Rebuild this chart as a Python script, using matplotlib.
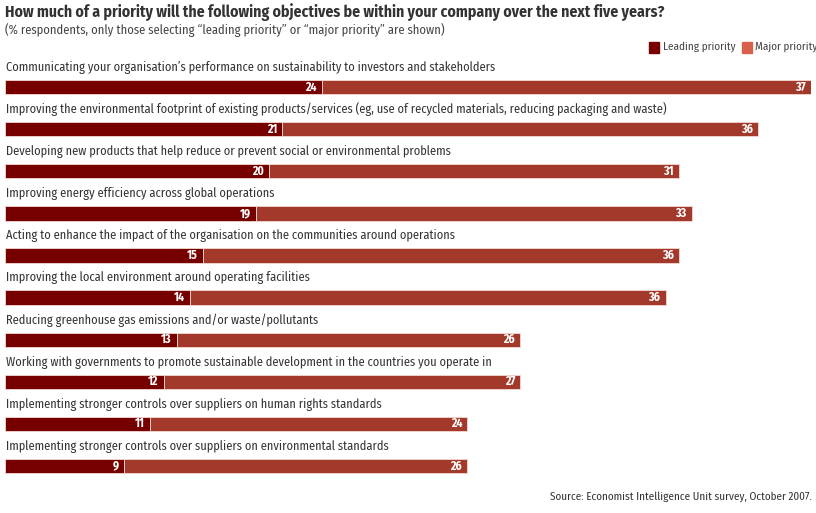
import matplotlib
matplotlib.use("Agg")
import matplotlib.pyplot as plt
from matplotlib.patches import Rectangle

categories = [
    "Communicating your organisation\u2019s performance on sustainability to investors and stakeholders",
    "Improving the environmental footprint of existing products/services (eg, use of recycled materials, reducing packaging and waste)",
    "Developing new products that help reduce or prevent social or environmental problems",
    "Improving energy efficiency across global operations",
    "Acting to enhance the impact of the organisation on the communities around operations",
    "Improving the local environment around operating facilities",
    "Reducing greenhouse gas emissions and/or waste/pollutants",
    "Working with governments to promote sustainable development in the countries you operate in",
    "Implementing stronger controls over suppliers on human rights standards",
    "Implementing stronger controls over suppliers on environmental standards",
]
leading = [24, 21, 20, 19, 15, 14, 13, 12, 11, 9]
major = [37, 36, 31, 33, 36, 36, 26, 27, 24, 26]

title = "How much of a priority will the following objectives be within your company over the next five years?"
subtitle = "(% respondents, only those selecting \u201cleading priority\u201d or \u201cmajor priority\u201d are shown)"
source = "Source: Economist Intelligence Unit survey, October 2007."

c_lead = "#760000"
c_major = "#a3392a"
c_major_leg = "#d9604c"
FONT = ["Fira Sans Condensed", "DejaVu Sans"]

W, H = 816, 513
fig = plt.figure(figsize=(W / 100, H / 100), dpi=100)
ax = fig.add_axes([5 / W, (H - 490) / H, 806 / W, 445 / H])
ax.set_xlim(0, 61)
ax.set_ylim(9.57, -1.0)
ax.axis("off")

ys = list(range(len(categories)))
bh = 0.34
ax.barh(ys, leading, height=bh, color=c_lead, edgecolor="#f3d9d4", linewidth=0.6)
ax.barh(ys, major, left=leading, height=bh, color=c_major, edgecolor="#f3d9d4", linewidth=0.6)

for y, cat, l, m in zip(ys, categories, leading, major):
    ax.text(0.05, y - 0.47, cat, ha="left", va="center", fontsize=8.9,
            family=FONT, color="#333333")
    ax.text(l - 0.4, y, str(l), ha="right", va="center", fontsize=8.5,
            family=FONT, color="white", fontweight="bold")
    ax.text(l + m - 0.4, y, str(m), ha="right", va="center", fontsize=8.5,
            family=FONT, color="white", fontweight="bold")

fig.text(5 / W, 1 - 12 / H, title, ha="left", va="center", fontsize=11.3,
         fontweight="bold", family=FONT, color="#333333")
fig.text(5 / W, 1 - 30 / H, subtitle, ha="left", va="center", fontsize=9,
         family=FONT, color="#444444")

# legend
fig.patches.append(Rectangle((649 / W, 1 - 53 / H), 10 / W, 11 / H,
                             transform=fig.transFigure, color=c_lead))
fig.text(663 / W, 1 - 47 / H, "Leading priority", ha="left", va="center",
         fontsize=8, family=FONT, color="#444444")
fig.patches.append(Rectangle((742 / W, 1 - 53 / H), 10 / W, 11 / H,
                             transform=fig.transFigure, color=c_major_leg))
fig.text(755 / W, 1 - 47 / H, "Major priority", ha="left", va="center",
         fontsize=8, family=FONT, color="#444444")

fig.text(812 / W, 1 - 497 / H, source, ha="right", va="center", fontsize=8,
         family=FONT, color="#333333")

fig.savefig("out.png", dpi=100, facecolor="white")
